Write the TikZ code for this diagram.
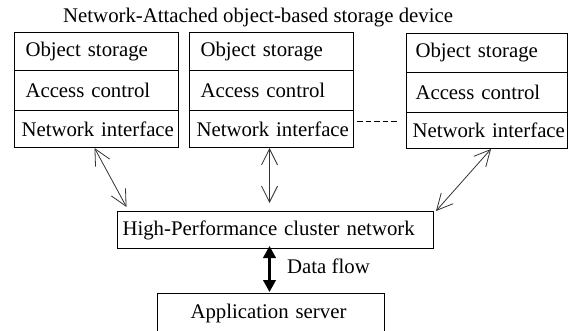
\documentclass[tikz,border=0pt]{standalone}
\usepackage{fontspec}
\setmainfont{Liberation Serif}
\usetikzlibrary{arrows.meta}
\begin{document}
\begin{tikzpicture}[x=1pt,y=-1pt,
  font=\fontsize{20.8}{24}\selectfont,
  row/.style={draw, line width=1pt, anchor=north west, inner ysep=0pt, align=left},
  link/.style={draw=black!80, line width=0.8pt,
    {Straight Barb[length=16pt,width=16pt]}-{Straight Barb[length=16pt,width=16pt]}},
  flow/.style={line width=2.6pt,
    {Triangle[length=12pt,width=12.5pt]}-{Triangle[length=12pt,width=12.5pt]}},
  dash line/.style={line width=1pt, dash pattern=on 5.5pt off 3pt}]
\useasboundingbox (0,0) rectangle (573,330);
\clip (0,0) rectangle (573,330);
\fill[white] (0,0) rectangle (573,330);

\node[anchor=base west, inner sep=0pt] (title) at (63,22.5) {Network-Attached object-based storage device};

% device 1
\node[row, minimum height=38pt, inner xsep=11pt, text width=142pt] (a1) at (14,32) {\mbox{Object storage}};
\node[row, minimum height=40pt, inner xsep=11pt, text width=142pt] (a2) at (14,70) {\mbox{Access control}};
\node[row, minimum height=37pt, inner xsep=7pt, text width=150pt] (a3) at (14,110) {\mbox{Network interface}};
% device 2
\node[row, minimum height=38pt, inner xsep=11pt, text width=142pt] (b1) at (189,32) {\mbox{Object storage}};
\node[row, minimum height=40pt, inner xsep=11pt, text width=142pt] (b2) at (189,70) {\mbox{Access control}};
\node[row, minimum height=37pt, inner xsep=7pt, text width=150pt] (b3) at (189,110) {\mbox{Network interface}};
% device 3
\node[row, minimum height=39pt, inner xsep=9pt, text width=143pt] (c1) at (406,33) {\mbox{Object storage}};
\node[row, minimum height=40pt, inner xsep=9pt, text width=143pt] (c2) at (406,72) {\mbox{Access control}};
\node[row, minimum height=36pt, inner xsep=6pt, text width=149pt] (c3) at (406,112) {\mbox{Network interface}};

% cluster network
\node[row, minimum height=37pt, inner xsep=5pt, text width=306pt] (cl) at (117,211) {\mbox{High-Performance cluster network}};
% application server
\node[row, minimum height=39pt, inner xsep=33pt, text width=161pt] (app) at (157,293) {\mbox{Application server}};

% connectors
\draw[link] ([xshift=-2pt]a3.south) -- ([xshift=-149pt,yshift=4pt]cl.north);
\draw[link] ([xshift=-2pt]b3.south) -- ([xshift=-6pt,yshift=8pt]cl.north);
\draw[link] ([xshift=4pt]c3.south) -- ([xshift=2pt]cl.north east);
\draw[flow] ([xshift=-6pt,yshift=3pt]cl.south) -- ([xshift=-1.5pt,yshift=1pt]app.north);
\draw[dash line] ([xshift=3pt,yshift=7.5pt]b3.east) -- ([xshift=-7pt,yshift=9pt]c3.west);

\node[anchor=west, inner sep=0pt] (df) at (287,266) {Data flow};
\end{tikzpicture}
\end{document}
